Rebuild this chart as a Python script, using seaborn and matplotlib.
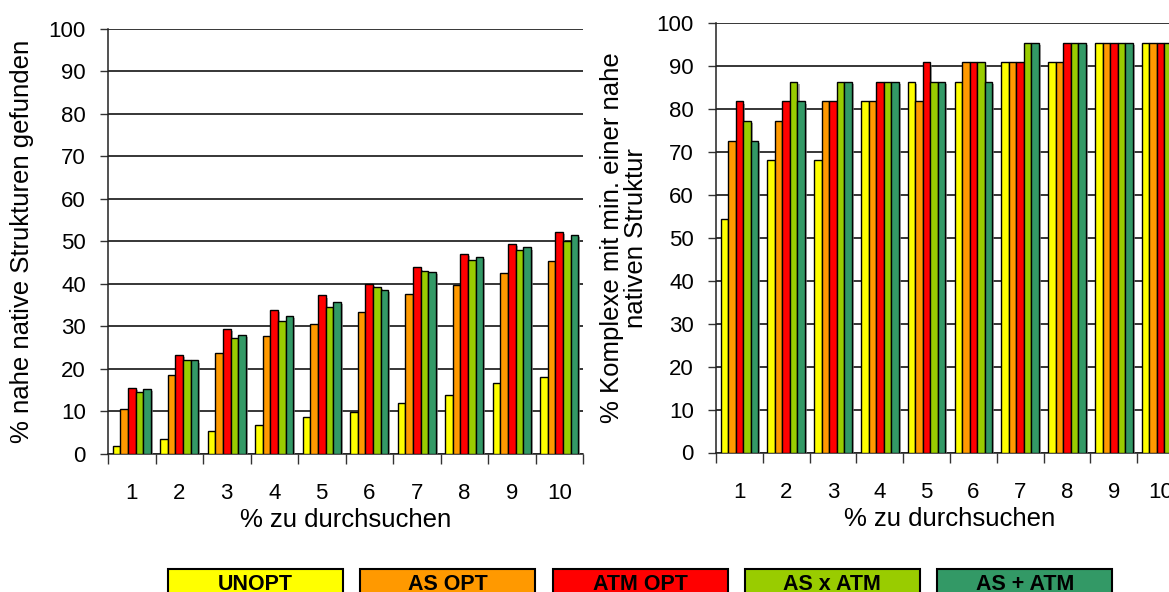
import numpy as np
import pandas as pd
import matplotlib
matplotlib.use("Agg")
import matplotlib.pyplot as plt
import matplotlib.patheffects as pe
from matplotlib.patches import Rectangle
import seaborn as sns

# ---- data ---------------------------------------------------------------
categories = [str(i) for i in range(1, 11)]
series = ["UNOPT", "AS OPT", "ATM OPT", "AS x ATM", "AS + ATM"]
colors = ["#FFFF00", "#FF9900", "#FF0000", "#99CC00", "#339966"]

# % near-native structures found
found_unopt = [1.8, 3.3, 5.2, 6.8, 8.7, 9.7, 11.8, 13.7, 16.6, 17.9]
found_as_opt = [10.5, 18.4, 23.6, 27.6, 30.6, 33.2, 37.6, 39.6, 42.5, 45.3]
found_atm_opt = [15.5, 23.1, 29.3, 33.7, 37.2, 39.9, 43.8, 46.9, 49.4, 52.1]
found_as_x_atm = [14.5, 22.1, 27.3, 31.3, 34.6, 39.1, 42.9, 45.5, 48.0, 50.0]
found_as_p_atm = [15.2, 21.9, 28.0, 32.3, 35.6, 38.5, 42.7, 46.2, 48.5, 51.4]

# % complexes with at least one near-native structure
cplx_unopt = [54.5, 68.2, 68.2, 81.8, 86.4, 86.4, 90.9, 90.9, 95.5, 95.5]
cplx_as_opt = [72.7, 77.3, 81.8, 81.8, 81.8, 90.9, 90.9, 90.9, 95.5, 95.5]
cplx_atm_opt = [81.8, 81.8, 81.8, 86.4, 90.9, 90.9, 90.9, 95.5, 95.5, 95.5]
cplx_as_x_atm = [77.3, 86.4, 86.4, 86.4, 86.4, 90.9, 95.5, 95.5, 95.5, 95.5]
cplx_as_p_atm = [72.7, 81.8, 86.4, 86.4, 86.4, 86.4, 95.5, 95.5, 95.5, 95.5]

left_label = "% nahe native Strukturen gefunden"
right_label = "% Komplexe mit min. einer nahe\nnativen Struktur"
x_label = "% zu durchsuchen"


def long_frame(values):
    rows = []
    for name, vals in zip(series, values):
        for cat, v in zip(categories, vals):
            rows.append({"pct": cat, "value": v, "series": name})
    return pd.DataFrame(rows)


df_left = long_frame([found_unopt, found_as_opt, found_atm_opt,
                      found_as_x_atm, found_as_p_atm])
df_right = long_frame([cplx_unopt, cplx_as_opt, cplx_atm_opt,
                       cplx_as_x_atm, cplx_as_p_atm])

# ---- style --------------------------------------------------------------
sns.set_style("white")
plt.rcParams["font.family"] = ["Liberation Sans", "DejaVu Sans"]
plt.rcParams["text.color"] = "black"
plt.rcParams["axes.labelcolor"] = "black"
plt.rcParams["xtick.color"] = "black"
plt.rcParams["ytick.color"] = "black"

W, H = 1169, 592
fig = plt.figure(figsize=(W / 100, H / 100), dpi=100)

ax_l = fig.add_axes([108 / W, (H - 453.5) / H, 475 / W, (453.5 - 28.7) / H])
ax_r = fig.add_axes([716 / W, (H - 452.5) / H, 468 / W, (452.5 - 23.4) / H])

TICK_FS = 16
LABEL_FS = 18.5
shadow = [pe.SimplePatchShadow(offset=(1.5, -1.5), shadow_rgbFace="#888888",
                               alpha=0.7), pe.Normal()]

for ax, df, ylab, ylab_x in ((ax_l, df_left, left_label, -0.156),
                             (ax_r, df_right, right_label, -0.146)):
    sns.barplot(data=df, x="pct", y="value", hue="series", order=categories,
                hue_order=series, palette=colors, saturation=1, width=0.8,
                edgecolor="black", linewidth=1, legend=False, ax=ax,
                zorder=3)
    for p in ax.patches:
        p.set_path_effects(shadow)

    ax.set_ylim(0, 100)
    ax.set_xlim(-0.5, 9.5)
    ax.set_yticks(np.arange(0, 101, 10))
    ax.yaxis.grid(True, color="black", linewidth=1.1, zorder=0)
    ax.xaxis.grid(False)
    ax.set_axisbelow(True)

    # category boundaries carry the tick marks, centres carry the labels
    ax.set_xticks(np.arange(-0.5, 10, 1))
    ax.set_xticklabels([])
    ax.set_xticks(np.arange(10), minor=True)
    ax.set_xticklabels(categories, minor=True)
    ax.tick_params(axis="x", which="major", direction="out", length=7,
                   width=1, color="#333333", bottom=True)
    ax.tick_params(axis="x", which="minor", length=0, pad=21,
                   labelsize=TICK_FS, bottom=True)
    ax.tick_params(axis="y", direction="out", length=6, width=1,
                   color="#333333", pad=10, labelsize=TICK_FS, left=True)

    for side in ("top", "right"):
        ax.spines[side].set_visible(False)
    for side in ("left", "bottom"):
        ax.spines[side].set_color("#222222")
        ax.spines[side].set_linewidth(1.1)

    ax.set_xlabel(x_label, fontsize=LABEL_FS, labelpad=3)
    ax.set_ylabel(ylab, fontsize=LABEL_FS, linespacing=1.0)
    ax.yaxis.set_label_coords(ylab_x, 0.5)

# ---- legend boxes along the bottom edge --------------------------------
box_w, box_pitch, box_x0, box_top = 175, 192.3, 168, 569
for i, (name, col) in enumerate(zip(series, colors)):
    x0 = box_x0 + i * box_pitch
    fig.patches.append(Rectangle((x0 / W, (H - 605) / H), box_w / W,
                                 (605 - box_top) / H, transform=fig.transFigure,
                                 facecolor=col, edgecolor="black",
                                 linewidth=1.5, zorder=5))
    fig.text((x0 + box_w / 2) / W, (H - 590.5) / H, name, ha="center",
             va="baseline", fontsize=15.5, fontweight="bold", zorder=6)

fig.savefig("out.png", dpi=100)
